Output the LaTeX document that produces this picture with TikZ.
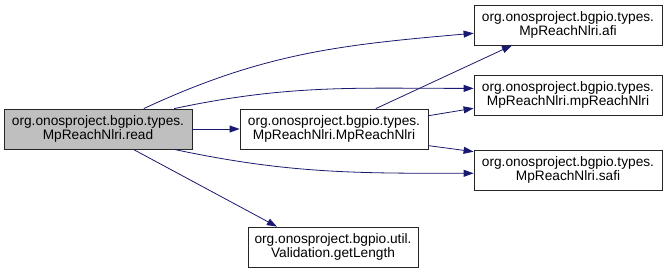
\documentclass[tikz,border=0pt]{standalone}
\usepackage{fontspec}
\setmainfont{Liberation Sans}
\usetikzlibrary{arrows.meta,positioning}
\definecolor{callblue}{HTML}{191970}

\begin{document}
\begin{tikzpicture}[x=1pt, y=1pt,
  fn/.style={draw=black!85, line width=0.8pt, align=center, font=\fontsize{13.7}{13.8}\selectfont, minimum width=188pt, minimum height=40pt, inner sep=2pt, fill=white},
  arr/.style={-{Triangle[length=10pt, width=7pt]}, line width=0.8pt, callblue}]
  \useasboundingbox (0,0) rectangle (667,272);
  \node[fn, fill=gray!50] (read) at (98,143) {org.onosproject.bgpio.types.\\MpReachNlri.read};
  \node[fn] (ctor) at (334,143) {org.onosproject.bgpio.types.\\MpReachNlri.MpReachNlri};
  \node[fn] (afi) at (568,247) {org.onosproject.bgpio.types.\\MpReachNlri.afi};
  \node[fn] (mpr) at (568,177) {org.onosproject.bgpio.types.\\MpReachNlri.mpReachNlri};
  \node[fn] (safi) at (568,102) {org.onosproject.bgpio.types.\\MpReachNlri.safi};
  \node[fn, minimum width=170pt] (len) at (333,25) {org.onosproject.bgpio.util.\\Validation.getLength};
  \draw[arr] (read.24) to[out=25, in=185] (afi.185);
  \draw[arr] (read.15) to[out=12, in=180] (mpr.176);
  \draw[arr] (read.east) -- (ctor.west);
  \draw[arr] (read.-15) to[out=-12, in=180] (safi.182);
  \draw[arr] (read.-30) -- (len.160);
  \draw[arr] (ctor.26) -- (afi.200);
  \draw[arr] (ctor.8) -- (mpr.188);
  \draw[arr] (ctor.-10) -- (safi.169);
\end{tikzpicture}
\end{document}
